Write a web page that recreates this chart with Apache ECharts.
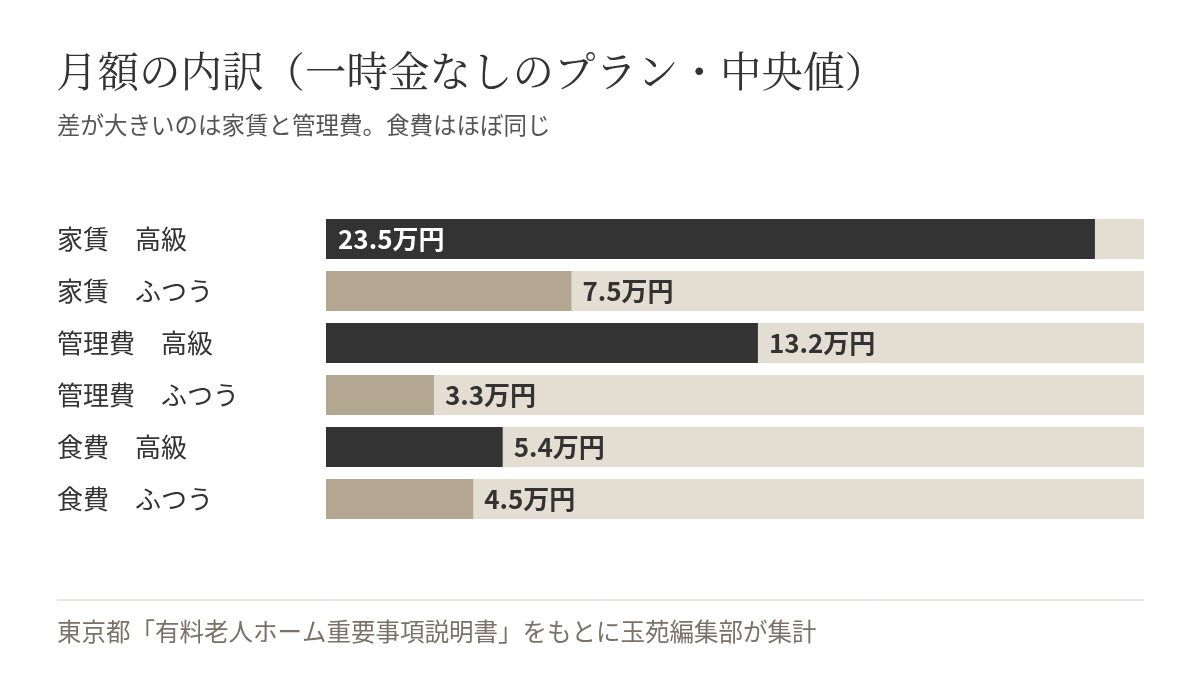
<!DOCTYPE html>
<html>
<head>
<meta charset="utf-8">
<script src="https://cdn.jsdelivr.net/npm/echarts@6/dist/echarts.min.js"></script>
<style>
  html, body { margin: 0; padding: 0; background: #fff; }
  #chart { width: 1200px; height: 675px; }
</style>
</head>
<body>
<div id="chart"></div>
<script>
/* 月額の内訳 */
var categories = ['家賃　高級', '家賃　ふつう', '管理費　高級', '管理費　ふつう', '食費　高級', '食費　ふつう'];
var values = [23.5, 7.5, 13.2, 3.3, 5.4, 4.5];          // 万円
var barColors = ['#333333', '#b3a792', '#333333', '#b3a792', '#333333', '#b3a792'];
var axisMax = 25;

var sans = '"Noto Sans CJK JP", "Noto Sans", sans-serif';
var serif = '"Noto Serif CJK JP", "Noto Serif JP", serif';

var seriesData = [];
for (var i = 0; i < values.length; i++) {
    var item = {
        value: values[i],
        itemStyle: { color: barColors[i] }
    };
    // 一番長いバーだけラベルを内側に
    if (i == 0) {
        item.label = { position: 'insideLeft', color: '#fff', distance: 12 };
    }
    seriesData.push(item);
}

var myChart = echarts.init(document.getElementById('chart'));
var option = {
    backgroundColor: '#fff',
    animation: false,
    title: [
        {
            text: '月額の内訳（一時金なしのプラン・中央値）',
            left: 56, top: 50, padding: 0,
            textStyle: { fontFamily: serif, fontSize: 41.5, fontWeight: 'normal', color: '#333' }
        },
        {
            text: '差が大きいのは家賃と管理費。食費はほぼ同じ',
            left: 57, top: 113, padding: 0,
            textStyle: { fontFamily: sans, fontSize: 23.5, fontWeight: 'normal', color: '#555' }
        },
        {
            text: '東京都「有料老人ホーム重要事項説明書」をもとに玉苑編集部が集計',
            left: 57, top: 619, padding: 0,
            textStyle: { fontFamily: sans, fontSize: 24.5, fontWeight: 'normal', color: '#7a7268' }
        }
    ],
    graphic: [
        {
            type: 'line',
            shape: { x1: 57, y1: 600, x2: 1144, y2: 600 },
            style: { stroke: '#cfcac2', lineWidth: 1 }
        }
    ],
    grid: { left: 326, right: 56, top: 213, bottom: 150, containLabel: false },
    xAxis: {
        type: 'value',
        min: 0,
        max: axisMax,
        show: false
    },
    yAxis: {
        type: 'category',
        data: categories,
        inverse: true,
        axisLine: { show: false },
        axisTick: { show: false },
        axisLabel: {
            align: 'left',
            margin: 269,
            fontFamily: sans,
            fontSize: 26,
            color: '#333'
        }
    },
    series: [
        {
            type: 'bar',
            data: seriesData,
            barWidth: 40,
            showBackground: true,
            backgroundStyle: { color: '#e4ddd2' },
            label: {
                show: true,
                position: 'right',
                distance: 11,
                fontFamily: sans,
                fontSize: 26,
                fontWeight: 'bold',
                color: '#333',
                formatter: function (p) { return p.value + '万円'; }
            }
        }
    ]
};
myChart.setOption(option);
</script>
</body>
</html>
